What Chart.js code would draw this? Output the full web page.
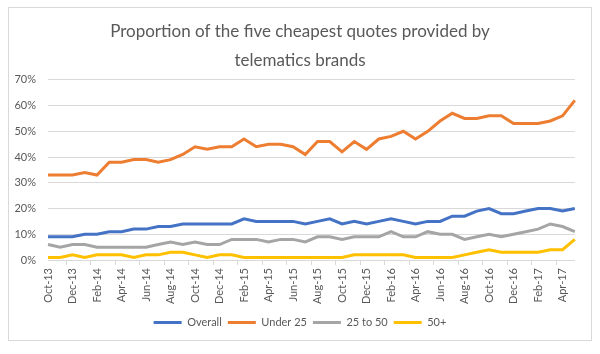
<!DOCTYPE html>
<html>
<head>
<meta charset="utf-8">
<script src="https://cdn.jsdelivr.net/npm/chart.js@4.4.1/dist/chart.umd.min.js"></script>
<style>
  html, body { margin: 0; padding: 0; background: #fff; }
  #caja {
    position: absolute; left: 8px; top: 7px;
    width: 582px; height: 332px;
    border: 1px solid #d9d9d9;
  }
  canvas { display: block; }
</style>
</head>
<body>
<div id="caja"><canvas id="grafico" width="582" height="332"></canvas></div>
<script>
const meses = [
  "Oct-13","Nov-13","Dec-13","Jan-14","Feb-14","Mar-14","Apr-14","May-14","Jun-14","Jul-14","Aug-14","Sep-14",
  "Oct-14","Nov-14","Dec-14","Jan-15","Feb-15","Mar-15","Apr-15","May-15","Jun-15","Jul-15","Aug-15","Sep-15",
  "Oct-15","Nov-15","Dec-15","Jan-16","Feb-16","Mar-16","Apr-16","May-16","Jun-16","Jul-16","Aug-16","Sep-16",
  "Oct-16","Nov-16","Dec-16","Jan-17","Feb-17","Mar-17","Apr-17","May-17"
];

const overall  = [9,9,9,10,10,11,11,12,12,13,13,14,14, 14,14,14,16,15,15,15,15,14,15,16,14,15,14,15, 16,15,14,15,15,17,17,19,20,18,18,19,20,20,19,20];
const under25  = [33,33,33,34,33,38,38,39,39,38,39,41,44, 43,44,44,47,44,45,45,44,41,46,46,42,46,43,47, 48,50,47,50,54,57,55,55,56,56,53,53,53,54,56,62];
const de25a50  = [6,5,6,6,5,5,5,5,5,6,7,6,7, 6,6,8,8,8,7,8,8,7,9,9,8,9,9,9, 11,9,9,11,10,10,8,9,10,9,10,11,12,14,13,11];
const mas50    = [1,1,2,1,2,2,2,1,2,2,3,3,2, 1,2,2,1,1,1,1,1,1,1,1,1,2,2,2, 2,2,1,1,1,1,2,3,4,3,3,3,3,4,4,8];

const titulo = ["Proportion of the five cheapest quotes provided by", "telematics brands"];
const gris = '#595959';
const fuente = 'Lato, "Open Sans", sans-serif';

function serie(nombre, valores, color) {
  return {
    label: nombre,
    data: valores,
    borderColor: color,
    backgroundColor: color,
    borderWidth: 3,
    pointRadius: 0,
    tension: 0,
    fill: false
  };
}

new Chart(document.getElementById('grafico'), {
  type: 'line',
  data: {
    labels: meses,
    datasets: [
      serie('Overall', overall, '#4472C4'),
      serie('Under 25', under25, '#ED7D31'),
      serie('25 to 50', de25a50, '#A5A5A5'),
      serie('50+', mas50, '#FFC000')
    ]
  },
  options: {
    responsive: false,
    devicePixelRatio: 1,
    animation: false,
    layout: { padding: { left: 0, right: 0, top: 0, bottom: 2 } },
    plugins: {
      tooltip: { enabled: false },
      title: {
        display: true,
        text: titulo,
        color: gris,
        font: { family: fuente, size: 17, weight: 'normal', lineHeight: 1.7 },
        padding: { top: 9, bottom: 5 }
      },
      legend: {
        position: 'bottom',
        labels: {
          color: gris,
          font: { family: fuente, size: 11 },
          usePointStyle: true,
          pointStyle: 'line',
          pointStyleWidth: 28,
          padding: 6
        }
      }
    },
    scales: {
      x: {
        afterFit: s => { s.height = 51; },
        grid: {
          offset: true,
          drawOnChartArea: false,
          tickLength: 5,
          color: c => (c.index % 2 === 0 ? '#d9d9d9' : 'rgba(0,0,0,0)')
        },
        border: { color: '#d9d9d9' },
        ticks: {
          autoSkip: false,
          maxRotation: 90,
          minRotation: 90,
          padding: 3,
          color: gris,
          font: { family: fuente, size: 11 },
          callback: function(v, i) { return i % 2 === 0 ? this.getLabelForValue(v) : ''; }
        }
      },
      y: {
        min: 0,
        max: 70,
        afterFit: s => { s.width = 39; },
        grid: { color: '#d9d9d9', drawTicks: false },
        border: { display: false },
        ticks: {
          stepSize: 10,
          padding: 12,
          color: gris,
          font: { family: fuente, size: 11 },
          callback: v => v + '%'
        }
      },
      // eje vacío a la derecha, solo para el margen sin descentrar el título
      yDer: {
        position: 'right',
        min: 0,
        max: 70,
        afterFit: s => { s.width = 11.8; },
        grid: { display: false },
        border: { display: false },
        ticks: { display: false }
      }
    }
  }
});
</script>
</body>
</html>
